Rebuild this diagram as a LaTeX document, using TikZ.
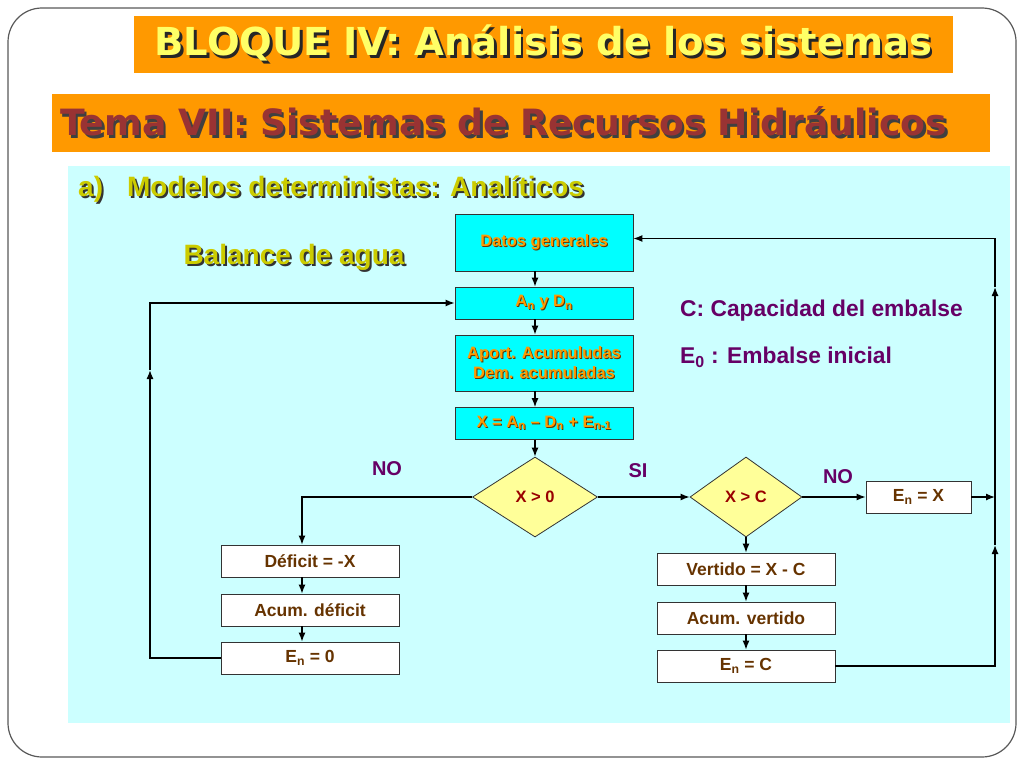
\documentclass[tikz,border=0pt]{standalone}
\usepackage{fontspec}
\setmainfont{Liberation Sans}
\newfontfamily\titlefont{DejaVu Sans}
\usetikzlibrary{arrows.meta}
\usetikzlibrary{shapes}

\definecolor{titleorange}{HTML}{FF9900}
\definecolor{titleyellow}{HTML}{FFFF66}
\definecolor{titlered}{HTML}{993333}
\definecolor{panelcyan}{HTML}{CCFFFF}
\definecolor{boxcyan}{HTML}{00FFFF}
\definecolor{olivetext}{HTML}{CCCC00}
\definecolor{boxtext}{HTML}{FF9900}
\definecolor{browntext}{HTML}{663300}
\definecolor{purpletext}{HTML}{660066}
\definecolor{lightyellow}{HTML}{FFFF99}
\definecolor{darkred}{HTML}{990000}

\newcommand{\shadowtxt}[4]{\rlap{\kern#3\raisebox{-#3}{\color{#2}#4}}{\color{#1}#4}}

\tikzset{
    conn/.style={-{Latex[length=9pt,width=7pt]}, line width=1.3pt, black},
    cyanbox/.style={draw=black!80, line width=0.8pt, fill=boxcyan, minimum width=178, minimum height=32, inner sep=0pt, font=\bfseries\fontsize{16.5}{20}\selectfont},
    whitebox/.style={draw=black!80, line width=0.8pt, fill=white, minimum width=178, minimum height=32, inner sep=0pt, text=browntext, font=\bfseries\fontsize{17.5}{20}\selectfont},
    decision/.style={draw=black!80, line width=0.8pt, fill=lightyellow, diamond, minimum width=125, minimum height=80, inner sep=0pt, text=darkred, font=\bfseries\fontsize{16.5}{19}\selectfont},
    answer/.style={text=purpletext, font=\bfseries\fontsize{20}{24}\selectfont},
    titlebar/.style={fill=titleorange, minimum height=57, inner sep=0pt}
}

\begin{document}
\begin{tikzpicture}[x=1pt, y=-1pt]
    \useasboundingbox (0,0) rectangle (1024,768);
    \draw[black!65, fill=white, line width=1.2pt, rounded corners=34] (8,8) rectangle (1016,757);
    \fill[panelcyan] (68,166) rectangle (1010,723);

    \node[titlebar, minimum width=819, font=\titlefont\bfseries\fontsize{38.5}{44}\selectfont] (bloque) at (543.5,44.5) {\shadowtxt{titleyellow}{black!85}{2.5pt}{BLOQUE IV: Análisis de los sistemas}};
    \node[titlebar, minimum height=58, text width=922, inner xsep=8, align=left, font=\titlefont\bfseries\fontsize{36.2}{42}\selectfont] (tema) at (521,123) {\shadowtxt{titlered}{black!75}{2.5pt}{Tema VII: Sistemas de Recursos Hidráulicos}};
    \node[anchor=west, inner sep=0pt, font=\bfseries\fontsize{28}{32}\selectfont] (modelos) at (78,190) {\shadowtxt{olivetext}{black!80}{2pt}{a)\hspace{24pt}Modelos deterministas: Analíticos}};
    \node[inner sep=0pt, font=\bfseries\fontsize{28}{32}\selectfont] (balance) at (294,258) {\shadowtxt{olivetext}{black!80}{2pt}{Balance de agua}};

    \node[cyanbox, minimum height=57] (datos) at (544,242.5) {\shadowtxt{boxtext}{browntext}{1pt}{Datos generales}};
    \node[cyanbox] (andn) at (544,303) {\shadowtxt{boxtext}{browntext}{1pt}{A\textsubscript{n} y D\textsubscript{n}}};
    \node[cyanbox, minimum height=56, align=center] (aport) at (544,363) {\shadowtxt{boxtext}{browntext}{1pt}{Aport. Acumuludas}\\\shadowtxt{boxtext}{browntext}{1pt}{Dem. acumuladas}};
    \node[cyanbox] (xcalc) at (544,423.5) {\shadowtxt{boxtext}{browntext}{1pt}{X = A\textsubscript{n} – D\textsubscript{n} + E\textsubscript{n-1}}};

    \node[decision] (pos) at (535,497) {X > 0};
    \node[decision, minimum width=112] (cap) at (746,497) {X > C};
    \node[whitebox, minimum width=105] (enx) at (918.5,497) {E\textsubscript{n} = X};

    \node[whitebox] (def) at (310,561) {Déficit = -X};
    \node[whitebox] (acdef) at (310,610) {Acum. déficit};
    \node[whitebox] (en0) at (310,658) {E\textsubscript{n} = 0};
    \node[whitebox] (vert) at (746,569) {Vertido = X - C};
    \node[whitebox] (acvert) at (746,618) {Acum. vertido};
    \node[whitebox] (enc) at (746,666) {E\textsubscript{n} = C};

    \node[answer] (no1) at (387,469) {NO};
    \node[answer] (si) at (638,471) {SI};
    \node[answer] (no2) at (838,477) {NO};
    \node[anchor=west, inner sep=0pt, text=purpletext, font=\bfseries\fontsize{22.8}{26}\selectfont] (capac) at (680,311) {C: Capacidad del embalse};
    \node[anchor=west, inner sep=0pt, text=purpletext, font=\bfseries\fontsize{22.8}{26}\selectfont] (einit) at (680,357) {E\textsubscript{0} : Embalse inicial};

    \coordinate (lmid) at (150,370);
    \coordinate (rjoin) at (995,497);
    \coordinate (rlow) at (995,545);
    \coordinate (rhigh) at (995,287);

    \draw[conn] (pos.north |- datos.south) -- (pos.north |- andn.north);
    \draw[conn] (pos.north |- andn.south) -- (pos.north |- aport.north);
    \draw[conn] (pos.north |- aport.south) -- (pos.north |- xcalc.north);
    \draw[conn] (pos.north |- xcalc.south) -- (pos.north);
    \draw[conn] (pos.east) -- (cap.west);
    \draw[conn] (cap.east) -- (enx.west);
    \draw[conn] (cap.south) -- (vert.north);
    \draw[conn] (vert) -- (acvert);
    \draw[conn] (acvert) -- (enc);
    \draw[conn] (pos.west) -| ([xshift=-8]def.north);
    \draw[conn] ([xshift=-8]def.south) -- ([xshift=-8]acdef.north);
    \draw[conn] ([xshift=-8]acdef.south) -- ([xshift=-8]en0.north);

    \draw[conn] (en0.west) -| (lmid);
    \draw[conn] (lmid) |- (andn.west);
    \draw[conn] (enc.east) -| (rlow);
    \draw[line width=1.3pt] (rlow) -- (rjoin);
    \draw[conn] (enx.east) -- (rjoin);
    \draw[conn] (rjoin) -- (rhigh);
    \draw[conn] (rhigh) |- ([yshift=4pt]datos.east);
\end{tikzpicture}
\end{document}
